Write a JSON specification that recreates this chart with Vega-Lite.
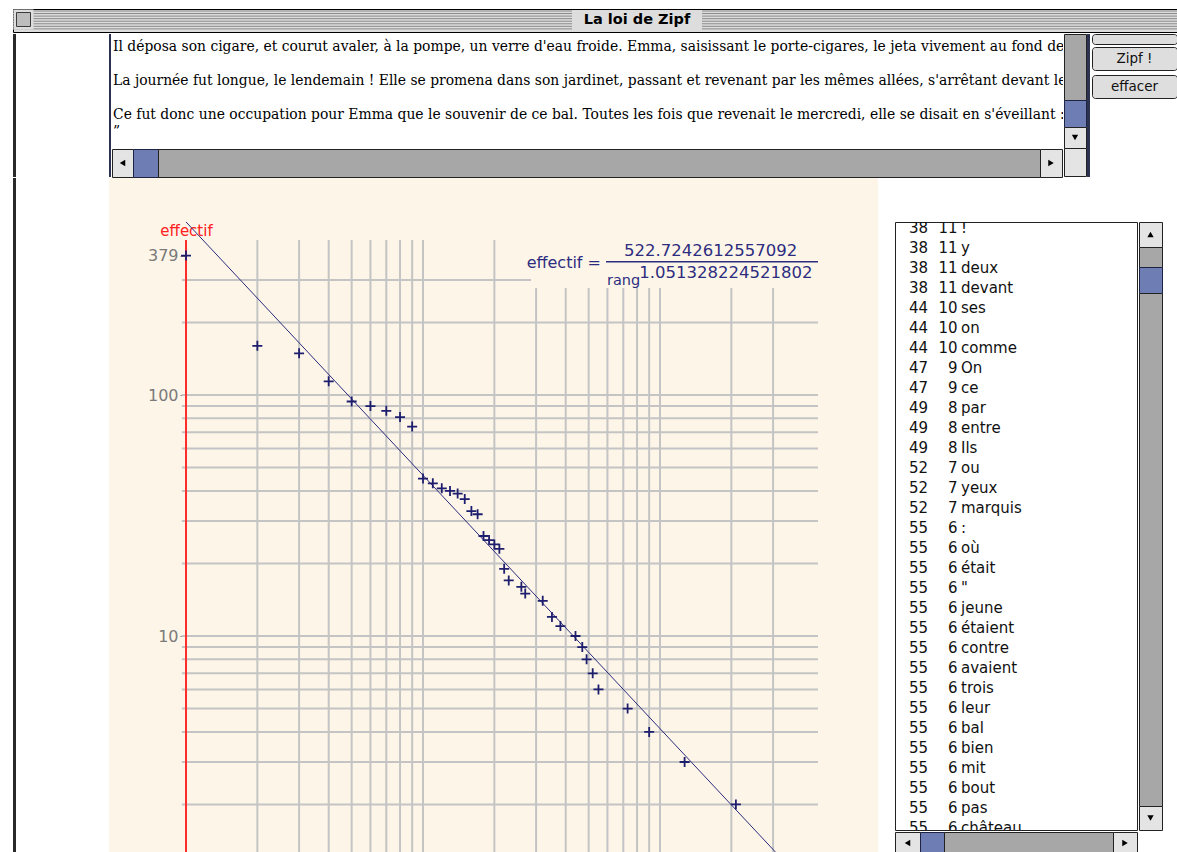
{
  "$schema": "https://vega.github.io/schema/vega-lite/v6.json",
  "background": "#ffffff",
  "padding": {"left": 12, "top": 8, "right": 0, "bottom": 0},
  "config": {"view": {"stroke": null}, "concat": {"spacing": 0}, "font": "DejaVu Sans"},
  "datasets": {
    "points": [
      {"rang": 1, "effectif": 379}, {"rang": 2, "effectif": 160}, {"rang": 3, "effectif": 149},
      {"rang": 4, "effectif": 114}, {"rang": 5, "effectif": 94}, {"rang": 6, "effectif": 90},
      {"rang": 7, "effectif": 86}, {"rang": 8, "effectif": 81}, {"rang": 9, "effectif": 74},
      {"rang": 10, "effectif": 45}, {"rang": 11, "effectif": 43}, {"rang": 12, "effectif": 41},
      {"rang": 13, "effectif": 40}, {"rang": 14, "effectif": 39}, {"rang": 15, "effectif": 37},
      {"rang": 16, "effectif": 33}, {"rang": 17, "effectif": 32}, {"rang": 18, "effectif": 26},
      {"rang": 19, "effectif": 25}, {"rang": 20, "effectif": 24}, {"rang": 21, "effectif": 23},
      {"rang": 22, "effectif": 19}, {"rang": 23, "effectif": 17}, {"rang": 26, "effectif": 16},
      {"rang": 27, "effectif": 15}, {"rang": 32, "effectif": 14}, {"rang": 35, "effectif": 12},
      {"rang": 38, "effectif": 11}, {"rang": 44, "effectif": 10}, {"rang": 47, "effectif": 9},
      {"rang": 49, "effectif": 8}, {"rang": 52, "effectif": 7}, {"rang": 55, "effectif": 6},
      {"rang": 73, "effectif": 5}, {"rang": 90, "effectif": 4}, {"rang": 127, "effectif": 3},
      {"rang": 209, "effectif": 2}
    ],
    "liste": [
      {"rang": 38, "effectif": 11, "mot": "!"},
      {"rang": 38, "effectif": 11, "mot": "y"},
      {"rang": 38, "effectif": 11, "mot": "deux"},
      {"rang": 38, "effectif": 11, "mot": "devant"},
      {"rang": 44, "effectif": 10, "mot": "ses"},
      {"rang": 44, "effectif": 10, "mot": "on"},
      {"rang": 44, "effectif": 10, "mot": "comme"},
      {"rang": 47, "effectif": 9, "mot": "On"},
      {"rang": 47, "effectif": 9, "mot": "ce"},
      {"rang": 49, "effectif": 8, "mot": "par"},
      {"rang": 49, "effectif": 8, "mot": "entre"},
      {"rang": 49, "effectif": 8, "mot": "Ils"},
      {"rang": 52, "effectif": 7, "mot": "ou"},
      {"rang": 52, "effectif": 7, "mot": "yeux"},
      {"rang": 52, "effectif": 7, "mot": "marquis"},
      {"rang": 55, "effectif": 6, "mot": ":"},
      {"rang": 55, "effectif": 6, "mot": "où"},
      {"rang": 55, "effectif": 6, "mot": "était"},
      {"rang": 55, "effectif": 6, "mot": "\""},
      {"rang": 55, "effectif": 6, "mot": "jeune"},
      {"rang": 55, "effectif": 6, "mot": "étaient"},
      {"rang": 55, "effectif": 6, "mot": "contre"},
      {"rang": 55, "effectif": 6, "mot": "avaient"},
      {"rang": 55, "effectif": 6, "mot": "trois"},
      {"rang": 55, "effectif": 6, "mot": "leur"},
      {"rang": 55, "effectif": 6, "mot": "bal"},
      {"rang": 55, "effectif": 6, "mot": "bien"},
      {"rang": 55, "effectif": 6, "mot": "mit"},
      {"rang": 55, "effectif": 6, "mot": "bout"},
      {"rang": 55, "effectif": 6, "mot": "pas"},
      {"rang": 55, "effectif": 6, "mot": "château"}
    ]
  },
  "spacing": 0,
  "vconcat": [
    {
      "width": 1165, "height": 23,
      "view": {"fill": "#dddddd", "stroke": "#000000"},
      "layer": [
        {
          "data": {"values": [{"rayure": 1}, {"rayure": 2}, {"rayure": 3}, {"rayure": 4}, {"rayure": 5}, {"rayure": 6}, {"rayure": 7}, {"rayure": 8}]},
          "mark": {"type": "rule", "color": "#8a8a8a", "strokeWidth": 1},
          "encoding": {"y": {"field": "rayure", "type": "ordinal", "axis": null, "scale": {"type": "point", "padding": 2.25, "align": 0.389}}}
        },
        {
          "data": {"values": [{}]},
          "mark": {"type": "point", "shape": "M-1,-0.16H1V0.16H-1Z", "size": 16900, "filled": true, "color": "#dddddd", "opacity": 1, "xOffset": 41.5},
          "encoding": {}
        },
        {
          "data": {"values": [{}]},
          "mark": {"type": "point", "shape": "square", "size": 400, "filled": true, "color": "#dddddd", "opacity": 1, "xOffset": -572, "yOffset": -1},
          "encoding": {}
        },
        {
          "data": {"values": [{}]},
          "mark": {"type": "point", "shape": "square", "size": 196, "filled": true, "fill": "#bdbdbd", "stroke": "#3a3a3a", "strokeWidth": 1, "opacity": 1, "xOffset": -572, "yOffset": -1},
          "encoding": {}
        },
        {
          "data": {"values": [{"titre": "La loi de Zipf"}]},
          "mark": {"type": "text", "fontWeight": "bold", "fontSize": 14.5, "color": "#000000", "dx": 41.5, "dy": -1},
          "encoding": {"text": {"field": "titre"}}
        }
      ]
    },
    {
      "spacing": 0,
      "hconcat": [
        {"width": 3, "height": 143, "data": {"values": []}, "mark": "point", "encoding": {}, "view": {"fill": "#2a2a2a"}},
        {"width": 93, "height": 143, "data": {"values": []}, "mark": "point", "encoding": {}},
        {"width": 2, "height": 143, "data": {"values": []}, "mark": "point", "encoding": {}, "view": {"fill": "#2c3350"}},
        {
          "spacing": 0,
          "vconcat": [
            {
              "width": 951, "height": 114,
              "view": {"fill": "#ffffff"},
              "data": {"values": [
                {"ligne": 0, "texte": "Il déposa son cigare, et courut avaler, à la pompe, un verre d'eau froide. Emma, saisissant le porte-cigares, le jeta vivement au fond de l'armoire."},
                {"ligne": 2, "texte": "La journée fut longue, le lendemain ! Elle se promena dans son jardinet, passant et revenant par les mêmes allées, s'arrêtant devant les plates-bandes."},
                {"ligne": 4, "texte": "Ce fut donc une occupation pour Emma que le souvenir de ce bal. Toutes les fois que revenait le mercredi, elle se disait en s'éveillant :"},
                {"ligne": 5, "texte": "”"}
              ]},
              "mark": {"type": "text", "font": "DejaVu Serif", "fontSize": 13.9, "align": "left", "dx": -474.5, "clip": true, "color": "#000000"},
              "encoding": {
                "y": {"field": "ligne", "type": "ordinal", "axis": null, "scale": {"type": "point", "domain": [0, 1, 2, 3, 4, 5], "padding": 0.853, "align": 0.448}},
                "text": {"field": "texte"}
              }
            },
            {
              "spacing": 0, "bounds": "flush",
              "hconcat": [
                {"width": 21, "height": 28, "data": {"values": [{}]}, "mark": {"type": "point", "shape": "triangle-left", "filled": true, "color": "#000000", "opacity": 1, "size": 40}, "encoding": {}, "view": {"fill": "#e4e4e4", "stroke": "#222222"}},
                {"width": 25, "height": 28, "data": {"values": []}, "mark": "point", "encoding": {}, "view": {"fill": "#6e7db3", "stroke": "#1d2340"}},
                {"width": 882, "height": 28, "data": {"values": []}, "mark": "point", "encoding": {}, "view": {"fill": "#a7a7a7", "stroke": "#222222"}},
                {"width": 22, "height": 28, "data": {"values": [{}]}, "mark": {"type": "point", "shape": "triangle-right", "filled": true, "color": "#000000", "opacity": 1, "size": 40}, "encoding": {}, "view": {"fill": "#e4e4e4", "stroke": "#222222"}}
              ]
            }
          ]
        },
        {
          "spacing": 0, "bounds": "flush",
          "vconcat": [
            {"width": 22, "height": 66, "data": {"values": []}, "mark": "point", "encoding": {}, "view": {"fill": "#a7a7a7", "stroke": "#222222"}},
            {"width": 22, "height": 27, "data": {"values": []}, "mark": "point", "encoding": {}, "view": {"fill": "#6e7db3", "stroke": "#1d2340"}},
            {"width": 22, "height": 21, "data": {"values": [{}]}, "mark": {"type": "point", "shape": "triangle-down", "filled": true, "color": "#000000", "opacity": 1, "size": 40}, "encoding": {}, "view": {"fill": "#e4e4e4", "stroke": "#222222"}},
            {"width": 22, "height": 28, "data": {"values": []}, "mark": "point", "encoding": {}, "view": {"fill": "#e4e4e4", "stroke": "#222222"}}
          ]
        },
        {"width": 3, "height": 143, "data": {"values": []}, "mark": "point", "encoding": {}, "view": {"fill": "#2c3350"}},
        {"width": 1, "height": 143, "data": {"values": []}, "mark": "point", "encoding": {}},
        {
          "spacing": 0, "bounds": "flush",
          "vconcat": [
            {"width": 85, "height": 10, "data": {"values": []}, "mark": "point", "encoding": {}, "view": {"fill": "#dedede", "stroke": "#222222", "cornerRadius": 3}},
            {"width": 85, "height": 3, "data": {"values": []}, "mark": "point", "encoding": {}},
            {"width": 85, "height": 23, "view": {"fill": "#dedede", "stroke": "#222222", "cornerRadius": 3}, "data": {"values": [{"bouton": "Zipf !"}]}, "mark": {"type": "text", "fontSize": 13.5, "color": "#111111"}, "encoding": {"text": {"field": "bouton"}}},
            {"width": 85, "height": 5, "data": {"values": []}, "mark": "point", "encoding": {}},
            {"width": 85, "height": 23, "view": {"fill": "#dedede", "stroke": "#222222", "cornerRadius": 3}, "data": {"values": [{"bouton": "effacer"}]}, "mark": {"type": "text", "fontSize": 13.5, "color": "#111111"}, "encoding": {"text": {"field": "bouton"}}},
            {"width": 85, "height": 79, "data": {"values": []}, "mark": "point", "encoding": {}}
          ]
        }
      ]
    },
    {
      "spacing": 0,
      "hconcat": [
        {"width": 3, "height": 674, "data": {"values": []}, "mark": "point", "encoding": {}, "view": {"fill": "#2a2a2a"}},
        {"width": 93, "height": 674, "data": {"values": []}, "mark": "point", "encoding": {}},
        {
          "width": 769, "height": 674,
          "view": {"fill": "#fdf6e8"},
          "layer": [
            {
              "data": {"values": [{"effectif": 2}, {"effectif": 3}, {"effectif": 4}, {"effectif": 5}, {"effectif": 6}, {"effectif": 7}, {"effectif": 8}, {"effectif": 9}, {"effectif": 10}, {"effectif": 20}, {"effectif": 30}, {"effectif": 40}, {"effectif": 50}, {"effectif": 60}, {"effectif": 70}, {"effectif": 80}, {"effectif": 90}, {"effectif": 100}, {"effectif": 200}, {"effectif": 300}]},
              "mark": {"type": "rule", "color": "#c4c4c4", "strokeWidth": 2},
              "encoding": {
                "y": {"field": "effectif", "type": "quantitative", "scale": {"type": "log", "domain": [1.2697, 795.3], "nice": false}},
                "x": {"datum": 0.96, "type": "quantitative", "axis": null, "scale": {"type": "log", "domain": [0.4732, 831.4], "nice": false}},
                "x2": {"datum": 464.2}
              }
            },
            {
              "data": {"values": [{"rang": 2}, {"rang": 3}, {"rang": 4}, {"rang": 5}, {"rang": 6}, {"rang": 7}, {"rang": 8}, {"rang": 9}, {"rang": 10}, {"rang": 20}, {"rang": 30}, {"rang": 40}, {"rang": 50}, {"rang": 60}, {"rang": 70}, {"rang": 80}, {"rang": 90}, {"rang": 100}, {"rang": 200}, {"rang": 300}]},
              "mark": {"type": "rule", "color": "#c4c4c4", "strokeWidth": 2},
              "encoding": {
                "x": {"field": "rang", "type": "quantitative", "axis": null, "scale": {"type": "log", "domain": [0.4732, 831.4], "nice": false}},
                "y": {"datum": 439.8, "type": "quantitative", "scale": {"type": "log", "domain": [1.2697, 795.3], "nice": false}},
                "y2": {"datum": 1.2697}
              }
            },
            {
              "data": {"values": [{}]},
              "mark": {"type": "rect", "color": "#fdf6e8"},
              "encoding": {
                "x": {"datum": 28.56, "type": "quantitative", "axis": null},
                "x2": {"datum": 831.4},
                "y": {"datum": 278, "type": "quantitative"},
                "y2": {"datum": 795.3}
              }
            },
            {
              "data": {"values": [{}]},
              "mark": {"type": "rule", "color": "#ff2b2b", "strokeWidth": 2},
              "encoding": {
                "x": {"datum": 1, "type": "quantitative", "axis": null},
                "y": {"datum": 439.8, "type": "quantitative"},
                "y2": {"datum": 1.2697}
              }
            },
            {
              "data": {"values": [{"rang": 1, "effectif": 522.7242612557092}, {"rang": 310, "effectif": 1.2563}]},
              "mark": {"type": "line", "color": "#2b2b7d", "strokeWidth": 1, "clip": true},
              "encoding": {
                "x": {"field": "rang", "type": "quantitative", "axis": null},
                "y": {"field": "effectif", "type": "quantitative"}
              }
            },
            {
              "data": {"name": "points"},
              "mark": {"type": "point", "shape": "M-1,0H1M0,-1V1", "filled": false, "stroke": "#1e1e6e", "strokeWidth": 1.8, "size": 100, "opacity": 1},
              "encoding": {
                "x": {"field": "rang", "type": "quantitative", "axis": null},
                "y": {
                  "field": "effectif", "type": "quantitative",
                  "axis": {
                    "values": [379, 100, 10], "orient": "left", "offset": -77, "format": "d",
                    "domain": false, "grid": false,
                    "ticks": true, "tickColor": "#808080", "tickSize": 6, "tickWidth": 1,
                    "labelColor": "#7a7a7a", "labelFontSize": 16, "labelPadding": 2, "labelFlush": false, "labelOverlap": false,
                    "title": "effectif", "titleColor": "#ff2020", "titleAngle": 0, "titleX": 0, "titleY": 52,
                    "titleAlign": "center", "titleBaseline": "middle", "titleFontSize": 15, "titleFontWeight": "normal"
                  }
                }
              }
            },
            {
              "data": {"values": [{}]},
              "mark": {"type": "text", "text": "effectif =", "align": "right", "baseline": "alphabetic", "fontSize": 16, "color": "#2d2d80"},
              "encoding": {"x": {"datum": 56.36, "type": "quantitative", "axis": null}, "y": {"datum": 335.6, "type": "quantitative"}}
            },
            {
              "data": {"values": [{}]},
              "mark": {"type": "text", "text": "522.7242612557092", "align": "center", "baseline": "alphabetic", "fontSize": 16.5, "color": "#2d2d80"},
              "encoding": {"x": {"datum": 163.65, "type": "quantitative", "axis": null}, "y": {"datum": 377.4, "type": "quantitative"}}
            },
            {
              "data": {"values": [{}]},
              "mark": {"type": "rule", "color": "#2d2d80", "strokeWidth": 1.5},
              "encoding": {"x": {"datum": 59.18, "type": "quantitative", "axis": null}, "x2": {"datum": 464.2}, "y": {"datum": 357.4, "type": "quantitative"}}
            },
            {
              "data": {"values": [{}]},
              "mark": {"type": "text", "text": "rang", "align": "left", "baseline": "alphabetic", "fontSize": 14.5, "color": "#2d2d80"},
              "encoding": {"x": {"datum": 59.76, "type": "quantitative", "axis": null}, "y": {"datum": 286.1, "type": "quantitative"}}
            },
            {
              "data": {"values": [{}]},
              "mark": {"type": "text", "text": "1.051328224521802", "align": "left", "baseline": "alphabetic", "fontSize": 16.5, "color": "#2d2d80"},
              "encoding": {"x": {"datum": 81.78, "type": "quantitative", "axis": null}, "y": {"datum": 304.9, "type": "quantitative"}}
            }
          ]
        },
        {"width": 16, "height": 674, "data": {"values": []}, "mark": "point", "encoding": {}},
        {
          "spacing": 0,
          "vconcat": [
            {"width": 265, "height": 43, "data": {"values": []}, "mark": "point", "encoding": {}},
            {
              "spacing": 0,
              "hconcat": [
                {
                  "width": 242, "height": 608,
                  "view": {"fill": "#ffffff", "stroke": "#222222"},
                  "data": {"name": "liste"},
                  "encoding": {"y": {"field": "mot", "type": "ordinal", "sort": null, "axis": null, "scale": {"type": "point", "padding": 0.2, "align": 0.75}}},
                  "layer": [
                    {"mark": {"type": "text", "align": "right", "dx": -88, "fontSize": 15, "clip": true, "color": "#111111"}, "encoding": {"text": {"field": "rang"}}},
                    {"mark": {"type": "text", "align": "right", "dx": -58.5, "fontSize": 15, "clip": true, "color": "#111111"}, "encoding": {"text": {"field": "effectif"}}},
                    {"mark": {"type": "text", "align": "left", "dx": -55, "fontSize": 15, "clip": true, "color": "#111111"}, "encoding": {"text": {"field": "mot"}}}
                  ]
                },
                {
                  "spacing": 0, "bounds": "flush",
                  "vconcat": [
                    {"width": 23, "height": 25, "data": {"values": [{}]}, "mark": {"type": "point", "shape": "triangle-up", "filled": true, "color": "#000000", "opacity": 1, "size": 40}, "encoding": {}, "view": {"fill": "#e4e4e4", "stroke": "#222222"}},
                    {"width": 23, "height": 20, "data": {"values": []}, "mark": "point", "encoding": {}, "view": {"fill": "#a7a7a7", "stroke": "#222222"}},
                    {"width": 23, "height": 26, "data": {"values": []}, "mark": "point", "encoding": {}, "view": {"fill": "#6e7db3", "stroke": "#1d2340"}},
                    {"width": 23, "height": 513, "data": {"values": []}, "mark": "point", "encoding": {}, "view": {"fill": "#a7a7a7", "stroke": "#222222"}},
                    {"width": 23, "height": 24, "data": {"values": [{}]}, "mark": {"type": "point", "shape": "triangle-down", "filled": true, "color": "#000000", "opacity": 1, "size": 40}, "encoding": {}, "view": {"fill": "#e4e4e4", "stroke": "#222222"}}
                  ]
                }
              ]
            },
            {
              "spacing": 0, "bounds": "flush",
              "hconcat": [
                {"width": 25, "height": 22, "data": {"values": [{}]}, "mark": {"type": "point", "shape": "triangle-left", "filled": true, "color": "#000000", "opacity": 1, "size": 40}, "encoding": {}, "view": {"fill": "#e4e4e4", "stroke": "#222222"}},
                {"width": 24, "height": 22, "data": {"values": []}, "mark": "point", "encoding": {}, "view": {"fill": "#6e7db3", "stroke": "#1d2340"}},
                {"width": 169, "height": 22, "data": {"values": []}, "mark": "point", "encoding": {}, "view": {"fill": "#a7a7a7", "stroke": "#222222"}},
                {"width": 24, "height": 22, "data": {"values": [{}]}, "mark": {"type": "point", "shape": "triangle-right", "filled": true, "color": "#000000", "opacity": 1, "size": 40}, "encoding": {}, "view": {"fill": "#e4e4e4", "stroke": "#222222"}},
                {"width": 23, "height": 22, "data": {"values": []}, "mark": "point", "encoding": {}}
              ]
            }
          ]
        }
      ]
    }
  ]
}
